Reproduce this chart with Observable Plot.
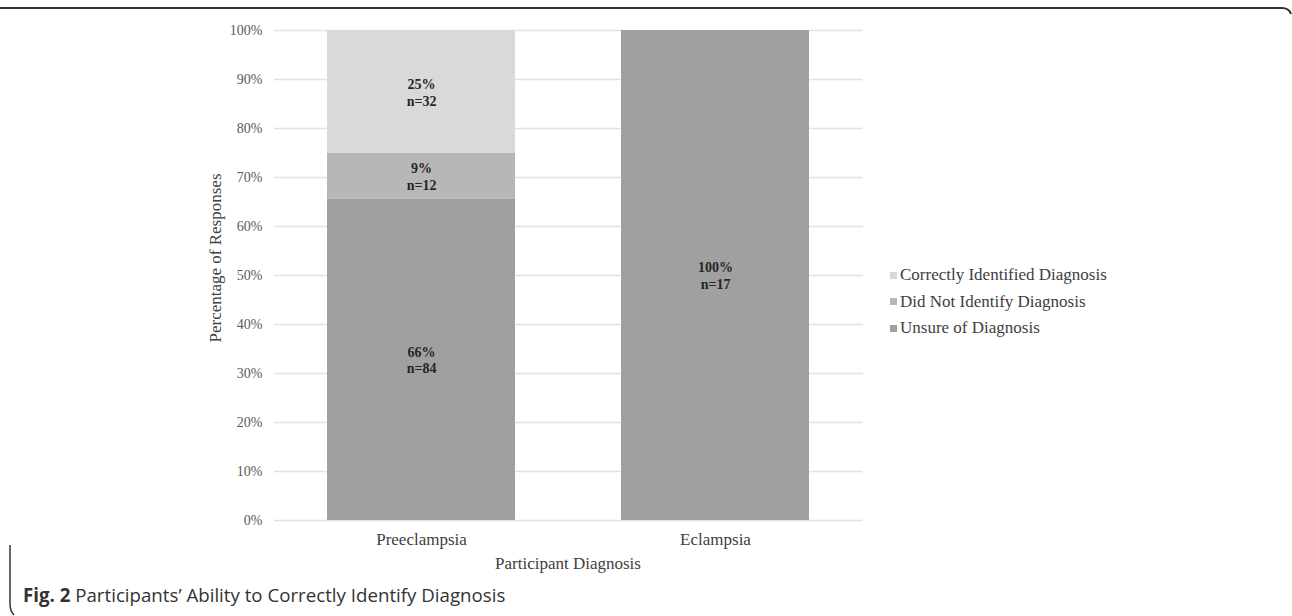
<!DOCTYPE html>
<html>
<head>
<meta charset="utf-8">
<script src="https://cdn.jsdelivr.net/npm/d3@7"></script>
<script src="https://cdn.jsdelivr.net/npm/@observablehq/plot@0.6"></script>
<style>
  html, body { margin: 0; padding: 0; background: #fff; }
  #wrap { position: relative; width: 1292px; height: 616px; overflow: hidden; font-family: "Liberation Serif", "Times New Roman", serif; }
  #chart { position: absolute; left: 0; top: 0; }
  .ov { position: absolute; white-space: nowrap; color: #404040; font-size: 17px; line-height: 1; }
  #ytitle { left: 215px; top: 258px; transform: translate(-50%, -50%) rotate(-90deg); }
  #xtitle { left: 568px; top: 563px; transform: translate(-50%, -50%); }
  #legend { position: absolute; left: 890px; top: 262px; }
  .lg { position: absolute; left: 0; height: 26px; display: flex; align-items: center; white-space: nowrap; font-size: 17px; color: #404040; }
  .lg span.sw { display: inline-block; width: 7px; height: 7px; margin-right: 3px; }
  #caption { position: absolute; left: 23px; top: 594px; transform: translateY(-50%); font-family: "Open Sans", "Noto Sans", sans-serif; font-size: 18.7px; color: #333; white-space: nowrap; }
  #frame { position: absolute; left: 0; top: 0; pointer-events: none; }
</style>
</head>
<body>
<div id="wrap">
  <div id="chart"></div>
  <div class="ov" id="ytitle">Percentage of Responses</div>
  <div class="ov" id="xtitle">Participant Diagnosis</div>
  <div id="legend"></div>
  <div id="caption"><b>Fig. 2</b> Participants’ Ability to Correctly Identify Diagnosis</div>
  <svg id="frame" width="1292" height="616">
    <path d="M0,8 H1282 Q1289,8 1291,14" fill="none" stroke="#333" stroke-width="2"/>
    <path d="M10,545 V604 Q10,611 14,615" fill="none" stroke="#333" stroke-width="1.5"/>
  </svg>
</div>
<script>
// ---- data ----
const categories = ["Preeclampsia", "Eclampsia"];
const seriesNames = ["Unsure of Diagnosis", "Did Not Identify Diagnosis", "Correctly Identified Diagnosis"];
const seriesColors = ["#a0a0a0", "#b7b7b7", "#d9d9d9"];
const unsureCounts = [84, 17];
const didNotCounts = [12, 0];
const correctCounts = [32, 0];
const yTicks = [0, 10, 20, 30, 40, 50, 60, 70, 80, 90, 100];

// ---- build table ----
const countsBySeries = [unsureCounts, didNotCounts, correctCounts];
const rows = [];
categories.forEach((cat, i) => {
  const total = countsBySeries.reduce((s, arr) => s + arr[i], 0);
  seriesNames.forEach((name, j) => {
    const n = countsBySeries[j][i];
    if (n > 0) {
      const pct = n / total * 100;
      rows.push({cat, series: name, n, pct, label: Math.round(pct) + "%\nn=" + n});
    }
  });
});

const chart = Plot.plot({
  width: 1292,
  height: 616,
  marginTop: 30,
  marginBottom: 96,
  marginLeft: 274,
  marginRight: 429,
  style: {fontFamily: "Liberation Serif, Times New Roman, serif", background: "transparent"},
  x: {domain: categories, paddingInner: 0.36, paddingOuter: 0.18},
  y: {domain: [0, 100]},
  color: {domain: seriesNames, range: seriesColors},
  marks: [
    Plot.ruleY(yTicks, {stroke: "#e2e2e2", strokeWidth: 1.3}),
    Plot.barY(rows, {x: "cat", y: "pct", fill: "series", order: seriesNames}),
    Plot.axisY({ticks: yTicks, tickSize: 0, tickPadding: 12, tickFormat: d => d + "%", fontSize: 14, fill: "#595959", label: null}),
    Plot.axisX({tickSize: 0, tickPadding: 12, fontSize: 17, fill: "#404040", label: null}),
    Plot.text(rows, Plot.stackY({x: "cat", y: "pct", z: "series", order: seriesNames, text: "label", fontSize: 14, fontWeight: "bold", fill: "#262626", lineHeight: 1.2}))
  ]
});
document.getElementById("chart").appendChild(chart);

// legend (top to bottom: reverse of stack order)
const legend = document.getElementById("legend");
[...seriesNames].reverse().forEach((name, k) => {
  const idx = seriesNames.indexOf(name);
  const d = document.createElement("div");
  d.className = "lg";
  d.style.top = (k * 26.5) + "px";
  d.innerHTML = `<span class="sw" style="background:${seriesColors[idx]}"></span>${name}`;
  legend.appendChild(d);
});
</script>
</body>
</html>
